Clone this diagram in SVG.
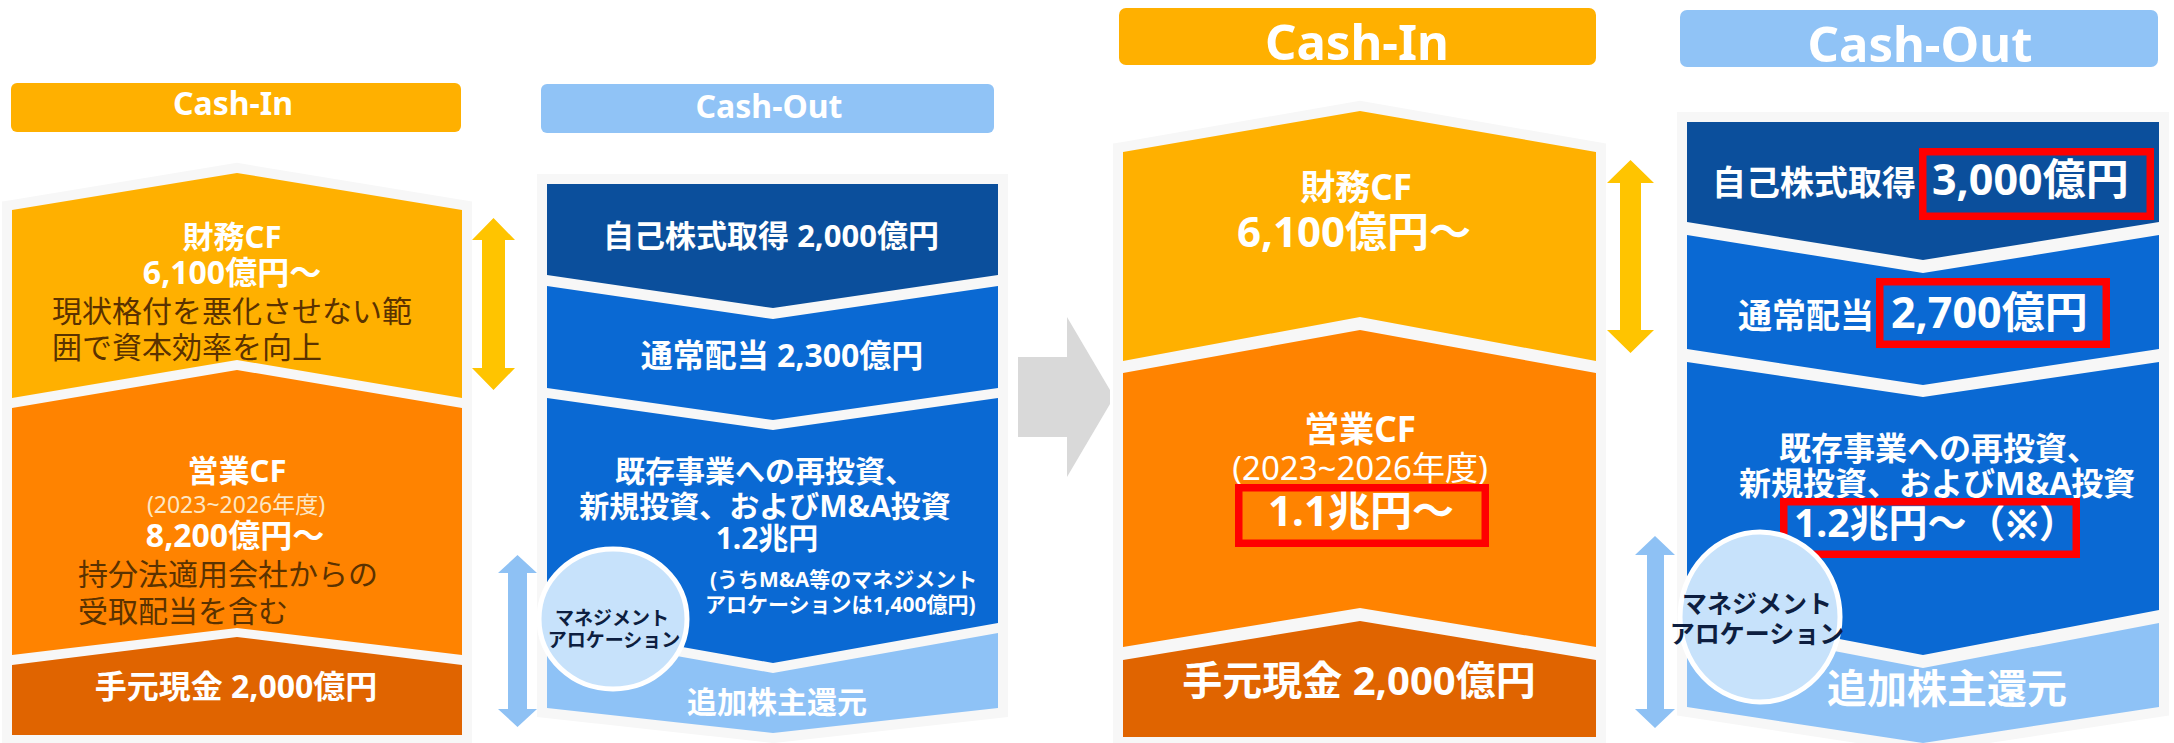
<svg xmlns="http://www.w3.org/2000/svg" width="2174" height="743" viewBox="0 0 2174 743">
<style>
text{font-family:"Noto Sans","Noto Sans CJK JP",sans-serif;}
.w{fill:#FFFFFF;font-weight:bold;}
.wr{fill:#FFFFFF;}
.m{text-anchor:middle;}
.br{fill:#5A3200;}
.nv{fill:#0D1E40;font-weight:bold;text-anchor:middle;}
.halo{fill:#F7F7F7;stroke:#F7F7F7;stroke-width:20;stroke-linejoin:miter;}
.yel{fill:#FFB000;}
.org{fill:#FF8300;}
.dor{fill:#E06400;}
.dbl{fill:#0B4F9C;}
.mbl{fill:#0A69D3;}
.lbl{fill:#8EC2F6;}
.red{fill:none;stroke:#FF0000;stroke-width:7.5;}
.circ{fill:#C7E2FB;stroke:#FFFFFF;stroke-width:5;}
</style>
<rect x="0" y="0" width="2174" height="743" fill="#FFFFFF"/>

<g id="halos">
<polygon class="halo" points="12,210 237,173 462,210 462,735 12,735"/>
<polygon class="halo" points="547,184 998,184 998,708 773,733 547,708"/>
<polygon class="halo" points="1123,152 1360,111 1596,152 1596,737 1123,737"/>
<polygon class="halo" points="1687,122 2159,122 2159,707 1923,743 1687,707"/>
</g>

<g id="connectors">
<polygon fill="#D9D9D9" points="1018,357 1067,357 1067,317 1110,390 1110,404 1067,477 1067,437 1018,437"/>
<polygon fill="#FFC400" points="493.5,218 515,240 505,240 505,368 515,368 493.5,390 472,368 482,368 482,240 472,240"/>
<polygon fill="#8EC1F4" points="517.5,555 537,573 527,573 527,709 537,709 517.5,727 498,709 508,709 508,573 498,573"/>
<polygon fill="#FFC400" points="1630.5,160 1654,183 1641,183 1641,330 1654,330 1630.5,353 1607,330 1620,330 1620,183 1607,183"/>
<polygon fill="#8EC1F4" points="1655,536 1675,555 1664,555 1664,709 1675,709 1655,728 1635,709 1647,709 1647,555 1635,555"/>
</g>

<g id="left-cashin-header">
<rect x="11" y="83" width="450" height="49" rx="6" fill="#FFB000"/>
<text class="w m" x="233" y="115" font-size="32">Cash-In</text>
</g>
<g id="left-zaimu">
<polygon class="yel" points="12,210 237,173 462,210 462,398 237,360 12,398"/>
<text class="w m" x="232" y="248" font-size="31">財務CF</text>
<text class="w m" x="232" y="284" font-size="32">6,100億円～</text>
<text class="br" x="52" y="322" font-size="30">現状格付を悪化させない範</text>
<text class="br" x="52" y="358" font-size="30">囲で資本効率を向上</text>
</g>
<g id="left-eigyo">
<polygon class="org" points="12,408 237,370 462,408 462,655 237,628 12,655"/>
<text class="w m" x="237" y="482" font-size="31">営業CF</text>
<text class="m" x="236" y="513" font-size="23" fill="#FDE7C4">(2023~2026年度)</text>
<text class="w m" x="235" y="547" font-size="32">8,200億円～</text>
<text class="br" x="78" y="585" font-size="30">持分法適用会社からの</text>
<text class="br" x="78" y="622" font-size="30">受取配当を含む</text>
</g>
<g id="left-temoto">
<polygon class="dor" points="12,665 237,637 462,665 462,735 12,735"/>
<text class="w m" x="236" y="698" font-size="32">手元現金 2,000億円</text>
</g>

<g id="left-cashout-header">
<rect x="541" y="84" width="453" height="49" rx="6" fill="#90C3F6"/>
<text class="w m" x="769" y="118" font-size="32">Cash-Out</text>
</g>
<g id="left-jiko">
<polygon class="dbl" points="547,184 998,184 998,275 773,308 547,275"/>
<text class="w m" x="771" y="247" font-size="31">自己株式取得 2,000億円</text>
</g>
<g id="left-haito">
<polygon class="mbl" points="547,286 773,319 998,286 998,388 773,420 547,388"/>
<text class="w m" x="782" y="367" font-size="32">通常配当 2,300億円</text>
</g>
<g id="left-toushi">
<polygon class="mbl" points="547,398 773,430 998,398 998,623 773,663 547,623"/>
<text class="w" x="615" y="482" font-size="30">既存事業への再投資、</text>
<text class="w m" x="765" y="517" font-size="30">新規投資、およびM&amp;A投資</text>
<text class="w m" x="767" y="549" font-size="30">1.2兆円</text>
<text class="w" x="710" y="587" font-size="21">(うちM&amp;A等のマネジメント</text>
<text class="w" x="705" y="612" font-size="21">アロケーションは1,400億円)</text>
</g>
<g id="left-tsuika">
<polygon class="lbl" points="547,633 773,673 998,633 998,708 773,733 547,708"/>
<text class="w m" x="777" y="713" font-size="30">追加株主還元</text>
</g>
<g id="left-mgmt">
<ellipse class="circ" cx="613" cy="619" rx="74" ry="70"/>
<text class="nv" x="612" y="625" font-size="19">マネジメント</text>
<text class="nv" x="614" y="647" font-size="19">アロケーション</text>
</g>

<g id="right-cashin-header">
<rect x="1119" y="8" width="477" height="57" rx="7" fill="#FFB000"/>
<text class="w m" x="1357" y="60" font-size="49">Cash-In</text>
</g>
<g id="right-zaimu">
<polygon class="yel" points="1123,152 1360,111 1596,152 1596,361 1360,317 1123,361"/>
<text class="w m" x="1356" y="200" font-size="35">財務CF</text>
<text class="w m" x="1354" y="247" font-size="42">6,100億円～</text>
</g>
<g id="right-eigyo">
<polygon class="org" points="1123,373 1360,330 1596,373 1596,647 1360,608 1123,647"/>
<text class="w m" x="1360" y="442" font-size="35">営業CF</text>
<text class="wr m" x="1360" y="480" font-size="33">(2023~2026年度)</text>
<text class="w m" x="1361" y="526" font-size="42">1.1兆円～</text>
<rect class="red" x="1238.75" y="487.75" width="246.5" height="55.5"/>
</g>
<g id="right-temoto">
<polygon class="dor" points="1123,660 1360,621 1596,660 1596,737 1123,737"/>
<text class="w m" x="1359" y="695" font-size="40">手元現金 2,000億円</text>
</g>

<g id="right-cashout-header">
<rect x="1680" y="10" width="478" height="57" rx="7" fill="#90C3F6"/>
<text class="w m" x="1920" y="62" font-size="49">Cash-Out</text>
</g>
<g id="right-jiko">
<polygon class="dbl" points="1687,122 2159,122 2159,222 1923,260 1687,222"/>
<text class="w" x="1712" y="195" font-size="34">自己株式取得</text>
<text class="w" x="1932" y="195" font-size="43">3,000億円</text>
<rect class="red" x="1922.75" y="151.75" width="227.5" height="64.5"/>
</g>
<g id="right-haito">
<polygon class="mbl" points="1687,235 1923,273 2159,235 2159,349 1923,385 1687,349"/>
<text class="w" x="1738" y="328" font-size="34">通常配当</text>
<text class="w" x="1891" y="328" font-size="43">2,700億円</text>
<rect class="red" x="1879.75" y="281.75" width="226.5" height="62.5"/>
</g>
<g id="right-toushi">
<polygon class="mbl" points="1687,362 1923,397 2159,362 2159,610 1923,655 1687,610"/>
<text class="w" x="1779" y="460" font-size="32">既存事業への再投資、</text>
<text class="w" x="1739" y="495" font-size="32">新規投資、およびM&amp;A投資</text>
<text class="w" x="1794" y="537" font-size="39">1.2兆円～（※）</text>
<rect class="red" x="1783.75" y="501.75" width="292.5" height="52.5"/>
</g>
<g id="right-tsuika">
<polygon class="lbl" points="1687,623 1923,668 2159,623 2159,707 1923,743 1687,707"/>
<text class="w m" x="1947" y="703" font-size="40">追加株主還元</text>
</g>
<g id="right-mgmt">
<ellipse class="circ" cx="1760" cy="617" rx="80" ry="85"/>
<text class="nv" x="1757" y="613" font-size="25">マネジメント</text>
<text class="nv" x="1757" y="643" font-size="25">アロケーション</text>
</g>
</svg>
